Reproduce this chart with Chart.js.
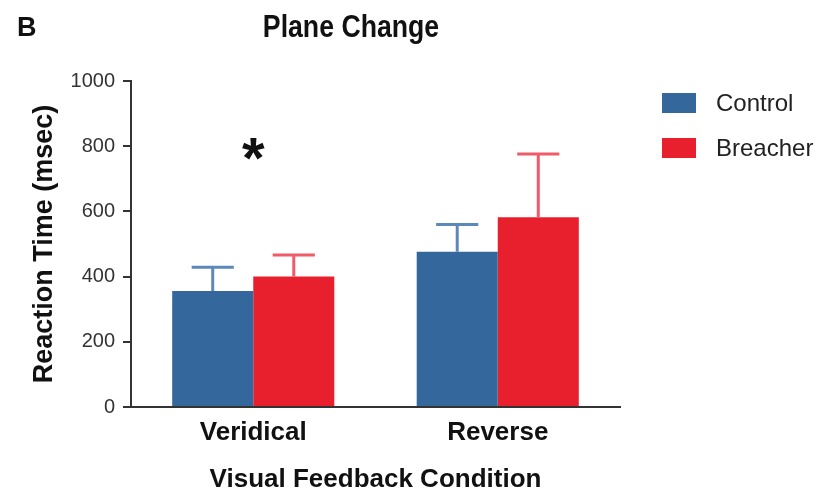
<!DOCTYPE html>
<html>
<head>
<meta charset="utf-8">
<script src="https://cdn.jsdelivr.net/npm/chart.js@4.4.1/dist/chart.umd.min.js"></script>
<style>
  html, body { margin: 0; padding: 0; background: #ffffff; }
  #wrap { width: 837px; height: 499px; }
</style>
</head>
<body>
<div id="wrap"><canvas id="chart" width="837" height="499"></canvas></div>
<script>
// Reaction time by visual feedback condition (mean + SEM)
const conditions = ['Veridical', 'Reverse'];
const controlMeans = [356, 476];
const controlSem = [73, 84];
const breacherMeans = [400, 582];
const breacherSem = [66, 194];
const yTicks = [0, 200, 400, 600, 800, 1000];
const seriesNames = ['Control', 'Breacher'];
const significantCondition = 0;   // index of the condition marked with *
const starLevel = 790;            // value at which the * is placed

const FONT = "'Liberation Sans', Arial, Helvetica, sans-serif";
const BLUE = '#34679b';
const RED = '#e8202e';
const BLUE_ERR = '#5d89ba';
const RED_ERR = '#ef5b68';

// Upper-only SEM whiskers drawn on top of the bars
const errorBars = {
  id: 'errorBars',
  afterDatasetsDraw(chart) {
    const ctx = chart.ctx;
    const y = chart.scales.y;
    chart.data.datasets.forEach((ds, i) => {
      const meta = chart.getDatasetMeta(i);
      meta.data.forEach((bar, j) => {
        const top = y.getPixelForValue(ds.data[j]);
        const end = y.getPixelForValue(ds.data[j] + ds.sem[j]);
        const half = bar.width * 0.26;
        ctx.save();
        ctx.strokeStyle = ds.errorColor;
        ctx.lineWidth = 3;
        ctx.beginPath();
        ctx.moveTo(bar.x, top);
        ctx.lineTo(bar.x, end);
        ctx.moveTo(bar.x - half, end);
        ctx.lineTo(bar.x + half, end);
        ctx.stroke();
        ctx.restore();
      });
    });
  }
};

// Panel letter, heading, significance star and legend
const decorations = {
  id: 'decorations',
  afterDraw(chart) {
    const ctx = chart.ctx;
    ctx.save();
    ctx.fillStyle = '#111111';

    ctx.font = 'bold 27px ' + FONT;
    ctx.textAlign = 'left';
    ctx.textBaseline = 'alphabetic';
    ctx.fillText('B', 17, 36);

    ctx.save();
    ctx.font = 'bold 31px ' + FONT;
    ctx.translate(351, 37);
    ctx.scale(0.86, 1);
    ctx.textAlign = 'center';
    ctx.fillText('Plane Change', 0, 0);
    ctx.restore();

    // significance marker over the first condition
    ctx.font = 'bold 58px ' + FONT;
    ctx.textAlign = 'center';
    const m = ctx.measureText('*');
    const sx = chart.scales.x.getPixelForValue(significantCondition);
    const sy = chart.scales.y.getPixelForValue(starLevel);
    ctx.fillText('*', sx, sy + (m.actualBoundingBoxAscent - m.actualBoundingBoxDescent) / 2);

    // legend
    ctx.font = '24px ' + FONT;
    ctx.textAlign = 'left';
    ctx.textBaseline = 'middle';
    chart.data.datasets.forEach((ds, i) => {
      const cy = 103 + i * 45;
      ctx.fillStyle = ds.backgroundColor;
      ctx.fillRect(662, cy - 10, 34, 20);
      ctx.fillStyle = '#222222';
      ctx.fillText(ds.label, 716, cy + 1);
    });
    ctx.restore();
  }
};

new Chart(document.getElementById('chart'), {
  type: 'bar',
  data: {
    labels: conditions,
    datasets: [
      { label: seriesNames[0], data: controlMeans, sem: controlSem, backgroundColor: BLUE, errorColor: BLUE_ERR },
      { label: seriesNames[1], data: breacherMeans, sem: breacherSem, backgroundColor: RED, errorColor: RED_ERR }
    ]
  },
  options: {
    responsive: false,
    animation: false,
    devicePixelRatio: 1,
    layout: { padding: { left: 0, right: 217, top: 81, bottom: 0 } },
    datasets: { bar: { barPercentage: 1.0, categoryPercentage: 0.663, borderWidth: 0 } },
    plugins: { legend: { display: false }, title: { display: false }, tooltip: { enabled: false } },
    scales: {
      x: {
        grid: { display: true, drawOnChartArea: false, drawTicks: false },
        border: { display: true, color: '#333333', width: 2 },
        ticks: { color: '#111111', font: { family: FONT, size: 26, weight: 'bold' }, padding: 10 },
        title: {
          display: true, text: 'Visual Feedback Condition', color: '#111111',
          font: { family: FONT, size: 26, weight: 'bold' }, padding: { top: 0, bottom: 4 }
        },
        afterFit(scale) { scale.height = 92; }
      },
      y: {
        min: 0,
        max: 1000,
        afterBuildTicks(scale) { scale.ticks = yTicks.map(v => ({ value: v })); },
        grid: { display: true, drawOnChartArea: false, drawTicks: true, tickLength: 8, color: '#333333', lineWidth: 2 },
        border: { display: true, color: '#333333', width: 2 },
        ticks: {
          color: '#333333', font: { family: FONT, size: 20 }, padding: 8,
          callback: (value) => String(value)
        },
        title: {
          display: true, text: 'Reaction Time (msec)', color: '#111111',
          font: { family: FONT, size: 27, weight: 'bold' }, padding: { top: 28, bottom: 0 }
        },
        afterFit(scale) { scale.width = 131; }
      }
    }
  },
  plugins: [errorBars, decorations]
});
</script>
</body>
</html>
